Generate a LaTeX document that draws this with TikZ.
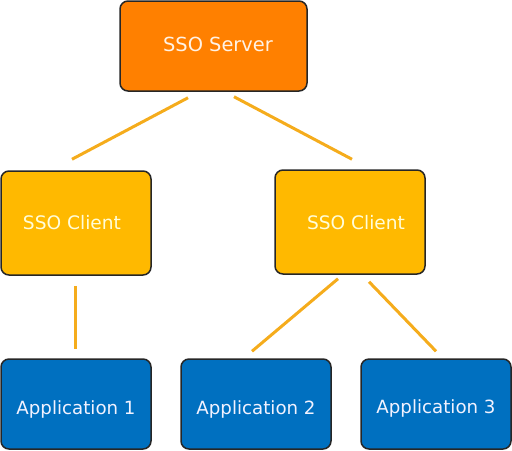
\documentclass[tikz,border=0pt]{standalone}
\usepackage{fontspec}
\setmainfont{DejaVu Sans}
\definecolor{server}{RGB}{255,128,0}
\definecolor{client}{RGB}{255,185,0}
\definecolor{app}{RGB}{0,112,192}
\definecolor{wire}{RGB}{245,172,28}
\tikzset{
  box/.style={draw=black!85,line width=0.75pt,rounded corners=4pt,
    minimum width=75pt,inner sep=0pt},
  servertext/.style={text=orange!10,font=\fontsize{9.7}{12}\selectfont},
  clienttext/.style={text=yellow!15,font=\fontsize{9.3}{12}\selectfont},
  apptext/.style={text=blue!5,font=\fontsize{9.1}{12}\selectfont},
  wire/.style={draw=wire,line width=1.5pt}
}
\begin{document}
\begin{tikzpicture}[x=0.5pt,y=-0.5pt]
    \useasboundingbox (0,0) rectangle (512,450);
    \node[box,fill=server,minimum width=93.5pt,minimum height=45pt,
      label={[servertext,xshift=2.25pt,yshift=1pt]center:SSO Server}] (server) at (213.5,46) {};
    \node[box,fill=client,minimum height=52pt,
      label={[clienttext,xshift=-2pt]center:SSO Client}] (client1) at (76,223) {};
    \node[box,fill=client,minimum height=52pt,
      label={[clienttext,xshift=3pt,yshift=-0.5pt]center:SSO Client}] (client2) at (350,222) {};
    \node[box,fill=app,minimum height=45pt,
      label={[apptext,yshift=-2.5pt]center:Application 1}] (app1) at (76,404) {};
    \node[box,fill=app,minimum height=45pt,
      label={[apptext,yshift=-2.5pt]center:Application 2}] (app2) at (256,404) {};
    \node[box,fill=app,minimum height=45pt,
      label={[apptext,yshift=-2pt]center:Application 3}] (app3) at (436,404) {};
    \draw[wire] ([shift={(-25.5,6)}]server.south) -- ([shift={(-4,-11)}]client1.north);
    \draw[wire] ([shift={(20.5,5)}]server.south) -- ([shift={(2,-10)}]client2.north);
    \draw[wire] ([shift={(-1,10)}]client1.south) -- ([shift={(-1,-9)}]app1.north);
    \draw[wire] ([shift={(-12,4)}]client2.south) -- ([shift={(-4,-7)}]app2.north);
    \draw[wire] ([shift={(19,7)}]client2.south) -- ([shift={(0,-7)}]app3.north);
  \end{tikzpicture}
\end{document}
